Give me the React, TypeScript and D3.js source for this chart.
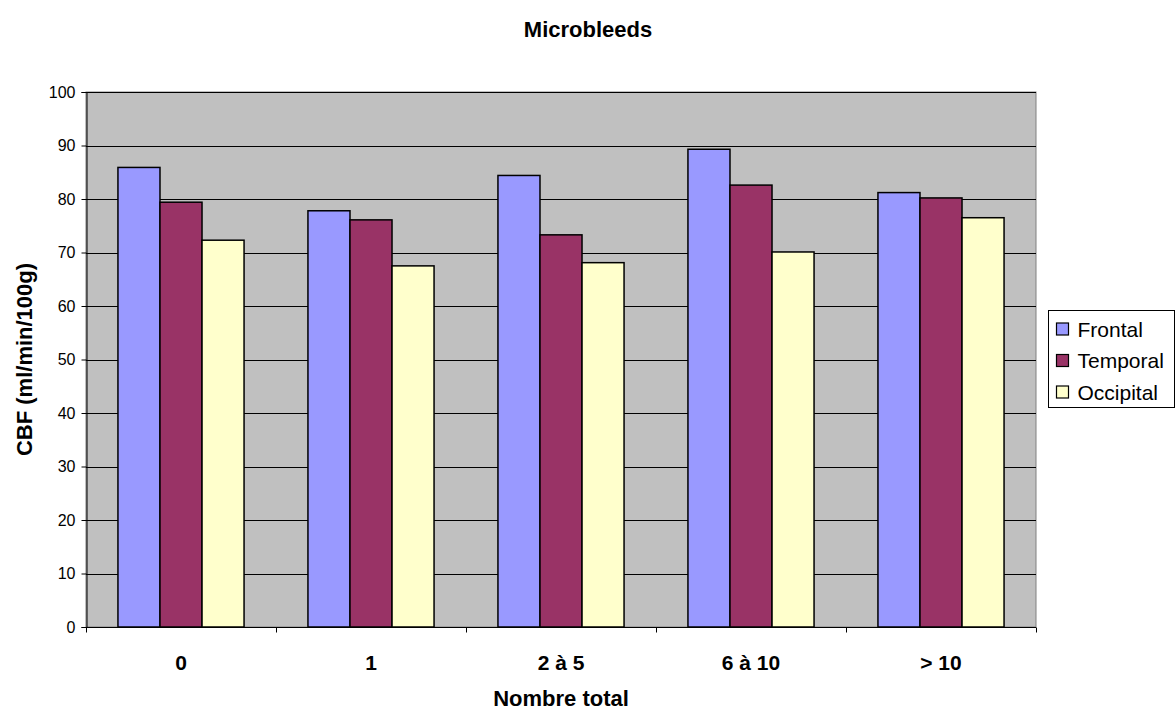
import React, { useRef, useEffect } from "react";
import * as d3 from "d3";

const width = 1176;
const height = 711;

const categories = ["0", "1", "2 à 5", "6 à 10", "> 10"];
const seriesNames = ["Frontal", "Temporal", "Occipital"];
const frontal = [85.9, 77.8, 84.4, 89.3, 81.2];
const temporal = [79.4, 76.1, 73.3, 82.6, 80.2];
const occipital = [72.3, 67.5, 68.1, 70.1, 76.5];
const yTicks = [0, 10, 20, 30, 40, 50, 60, 70, 80, 90, 100];
const colors = ["#9999ff", "#993366", "#ffffcc"];

const margin = { left: 86, right: 140, top: 92, bottom: 84 };

export default function App() {
  const ref = useRef<SVGSVGElement | null>(null);

  useEffect(() => {
    const svg = d3.select(ref.current);
    svg.selectAll("*").remove();
    const font = "Arial, 'Liberation Sans', sans-serif";
    const series = [frontal, temporal, occipital];

    const x = d3
      .scaleBand()
      .domain(categories)
      .range([margin.left, width - margin.right])
      .paddingInner(0)
      .paddingOuter(0);
    const x1 = d3
      .scaleBand()
      .domain(seriesNames)
      .range([0, x.bandwidth()])
      .paddingOuter(0.76)
      .paddingInner(0);
    const y = d3.scaleLinear().domain([0, 100]).range([height - margin.bottom, margin.top]);

    // plot background
    svg
      .append("rect")
      .attr("x", margin.left)
      .attr("y", margin.top)
      .attr("width", width - margin.right - margin.left)
      .attr("height", y(0) - margin.top)
      .attr("fill", "#c0c0c0")
      .attr("stroke", "#808080")
      .attr("stroke-width", 1);

    // gridlines
    svg
      .append("g")
      .selectAll("line")
      .data(yTicks.filter((t) => t > 0))
      .enter()
      .append("line")
      .attr("x1", margin.left)
      .attr("x2", width - margin.right)
      .attr("y1", (d) => Math.round(y(d)) + 0.5)
      .attr("y2", (d) => Math.round(y(d)) + 0.5)
      .attr("stroke", "#000")
      .attr("stroke-width", 1);

    // bars
    const groups = svg
      .append("g")
      .selectAll("g")
      .data(categories)
      .enter()
      .append("g")
      .attr("transform", (d) => `translate(${x(d)},0)`);

    groups
      .selectAll("rect")
      .data((_, i) => seriesNames.map((s, j) => ({ s, v: series[j][i], c: colors[j] })))
      .enter()
      .append("rect")
      .attr("x", (d) => x1(d.s)!)
      .attr("y", (d) => y(d.v))
      .attr("width", x1.bandwidth())
      .attr("height", (d) => y(0) - y(d.v))
      .attr("fill", (d) => d.c)
      .attr("stroke", "#000")
      .attr("stroke-width", 1.5);

    // y axis
    const yAxis = svg
      .append("g")
      .attr("transform", `translate(${margin.left + 0.5},0)`)
      .call(d3.axisLeft(y).tickValues(yTicks).tickSize(5).tickPadding(6));
    yAxis.select(".domain").attr("stroke", "#000");
    yAxis.selectAll("text").attr("font-family", font).attr("font-size", 16).attr("fill", "#000");

    // x axis
    const xAxis = svg
      .append("g")
      .attr("transform", `translate(0,${y(0) + 0.5})`);
    xAxis
      .append("line")
      .attr("x1", margin.left)
      .attr("x2", width - margin.right)
      .attr("stroke", "#000");
    xAxis
      .selectAll("line.tick")
      .data([...categories.map((c) => x(c)!), width - margin.right])
      .enter()
      .append("line")
      .attr("class", "tick")
      .attr("x1", (d) => Math.round(d) + 0.5)
      .attr("x2", (d) => Math.round(d) + 0.5)
      .attr("y1", 0)
      .attr("y2", 5)
      .attr("stroke", "#000");
    xAxis
      .selectAll("text")
      .data(categories)
      .enter()
      .append("text")
      .attr("x", (d) => x(d)! + x.bandwidth() / 2)
      .attr("y", 669 - y(0))
      .attr("text-anchor", "middle")
      .attr("font-family", font)
      .attr("font-size", 21)
      .attr("font-weight", "bold")
      .text((d) => d);

    // titles
    svg
      .append("text")
      .attr("x", 588)
      .attr("y", 37)
      .attr("text-anchor", "middle")
      .attr("font-family", font)
      .attr("font-size", 22)
      .attr("font-weight", "bold")
      .text("Microbleeds");
    svg
      .append("text")
      .attr("x", (margin.left + width - margin.right) / 2)
      .attr("y", 706)
      .attr("text-anchor", "middle")
      .attr("font-family", font)
      .attr("font-size", 22)
      .attr("font-weight", "bold")
      .text("Nombre total");
    svg
      .append("text")
      .attr("transform", `translate(32,${(margin.top + y(0)) / 2}) rotate(-90)`)
      .attr("text-anchor", "middle")
      .attr("font-family", font)
      .attr("font-size", 22)
      .attr("font-weight", "bold")
      .text("CBF (ml/min/100g)");

    // legend
    const legend = svg.append("g").attr("transform", "translate(1048.5,310.5)");
    legend
      .append("rect")
      .attr("width", 126)
      .attr("height", 97)
      .attr("fill", "#fff")
      .attr("stroke", "#000");
    seriesNames.forEach((s, i) => {
      legend
        .append("rect")
        .attr("x", 8)
        .attr("y", 12.5 + i * 31.5)
        .attr("width", 12)
        .attr("height", 12)
        .attr("fill", colors[i])
        .attr("stroke", "#000")
        .attr("stroke-width", 1.2);
      legend
        .append("text")
        .attr("x", 29)
        .attr("y", 26 + i * 31.5)
        .attr("font-family", font)
        .attr("font-size", 21)
        .text(s);
    });
  }, []);

  return (
    <div style={{ position: "fixed", left: 0, top: 0, width, height, overflow: "hidden", background: "#fff" }}>
      <svg ref={ref} width={width} height={height} style={{ display: "block" }} />
    </div>
  );
}
